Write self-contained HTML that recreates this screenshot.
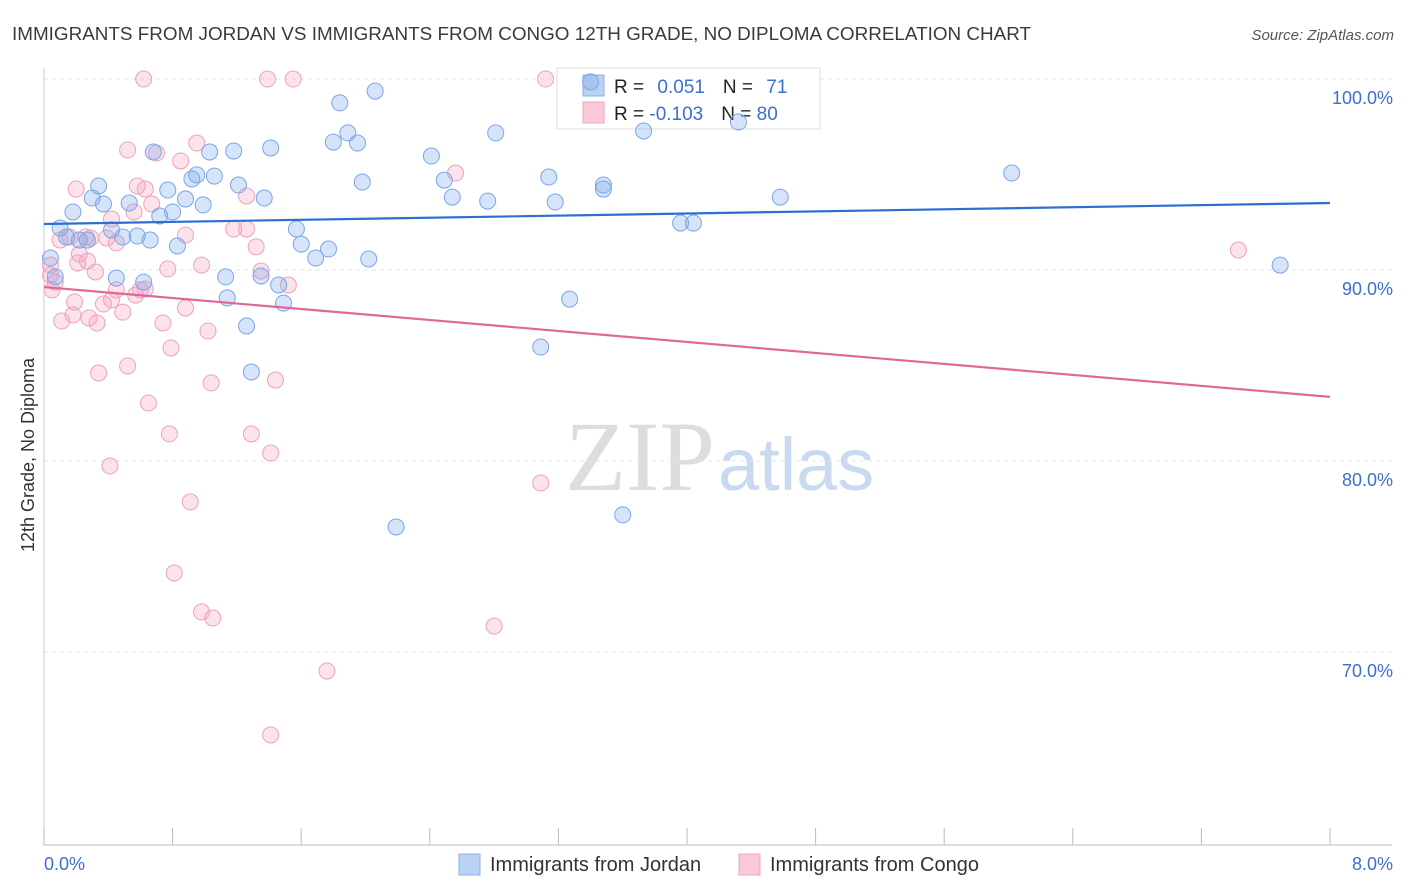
<!DOCTYPE html>
<html><head><meta charset="utf-8"><style>
body{margin:0;background:#fff;font-family:"Liberation Sans",sans-serif;}
#wrap{position:relative;width:1406px;height:892px;overflow:hidden;}
</style></head><body>
<div id="wrap">
<svg id="svg" width="1406" height="892" xmlns="http://www.w3.org/2000/svg">
<text x="12" y="40" font-size="18" fill="#3a3a3a" textLength="1019" lengthAdjust="spacingAndGlyphs">IMMIGRANTS FROM JORDAN VS IMMIGRANTS FROM CONGO 12TH GRADE, NO DIPLOMA CORRELATION CHART</text>
<text x="1394" y="40" font-size="15" fill="#555" font-style="italic" text-anchor="end">Source: ZipAtlas.com</text>
<text x="715" y="490" font-size="100" fill="#ddd" text-anchor="end" font-family="Liberation Serif,serif">ZIP</text>
<text x="718" y="490" font-size="74" fill="#c9daf0">atlas</text>
<g id="grid"></g>
<g>
<rect x="557" y="68" width="263" height="61" fill="#fff" stroke="#ddd"/>
<rect x="583" y="75" width="21" height="21" fill="#b9d1f3" stroke="#8cb2ea"/>
<rect x="583" y="102" width="21" height="21" fill="#fac8d8" stroke="#f0a6c0"/>
<text x="614" y="93" font-size="19" fill="#222">R = <tspan fill="#3b6fd0" dx="8">0.051</tspan><tspan dx="18" fill="#222">N = </tspan><tspan fill="#3b6fd0" dx="8">71</tspan></text>
<text x="614" y="120" font-size="19" fill="#222">R = <tspan fill="#3b6fd0">-0.103</tspan><tspan dx="18" fill="#222">N = </tspan><tspan fill="#3b6fd0">80</tspan></text>
</g>
<g id="pts"></g>
<g id="lines"></g>
<text transform="translate(34,455) rotate(-90)" font-size="18" fill="#333" text-anchor="middle">12th Grade, No Diploma</text>
<text x="44" y="870" font-size="18" fill="#3b6fd0">0.0%</text>
<text x="1393" y="870" font-size="18" fill="#3b6fd0" text-anchor="end">8.0%</text>
<g>
<rect x="459" y="854" width="21" height="21" fill="#b9d1f3" stroke="#8cb2ea"/>
<text x="490" y="871" font-size="20" fill="#333">Immigrants from Jordan</text>
<rect x="739" y="854" width="21" height="21" fill="#fac8d8" stroke="#f0a6c0"/>
<text x="770" y="871" font-size="20" fill="#333">Immigrants from Congo</text>
</g>
</svg>
</div>
<script>
const yTicks=[100,90,80,70];
const yTickLabels=["100.0%","90.0%","80.0%","70.0%"];
const xTicks=[0,0.8,1.6,2.4,3.2,4,4.8,5.6,6.4,7.2,8];
const jordanX=[0.10,0.18,0.34,0.30,0.37,0.14,0.22,0.27,0.42,0.49,0.53,0.58,0.66,0.68,0.72,0.77,0.80,0.83,0.88,0.92,0.95,0.99,1.03,1.06,1.13,1.14,1.18,1.21,1.26,1.29,1.35,1.37,1.41,1.46,1.49,1.57,1.60,1.69,1.77,1.80,1.84,1.89,1.95,1.98,2.02,2.06,2.19,2.41,2.49,2.54,2.76,2.81,3.09,3.14,3.18,3.27,3.40,3.48,3.48,3.60,3.73,3.96,4.04,4.32,4.58,6.02,7.69,0.04,0.07,0.62,0.45];
const jordanY=[93.14,93.98,95.34,94.71,94.40,92.67,92.51,92.51,93.04,92.67,94.45,92.72,92.51,97.12,93.77,95.13,93.98,92.20,94.66,95.71,95.92,94.35,97.12,95.86,90.58,89.48,97.17,95.39,88.01,85.60,90.63,94.71,97.33,90.16,89.21,93.09,92.30,91.57,92.04,97.64,99.69,98.12,97.59,95.55,91.52,100.31,77.49,96.91,95.65,94.76,94.55,98.12,86.91,95.81,94.50,89.42,100.79,95.18,95.39,78.12,98.22,93.40,93.40,98.69,94.76,96.02,91.20,91.57,90.58,90.31,90.52];
const congoX=[0.62,1.39,1.55,3.12,0.52,0.70,0.85,0.95,0.20,0.58,0.63,0.67,0.56,0.42,1.26,1.18,1.26,0.88,1.32,2.56,0.16,0.29,0.39,0.45,0.22,0.21,0.27,0.32,0.77,0.98,1.35,1.52,0.04,0.05,0.07,0.19,0.18,0.11,0.28,0.33,0.37,0.45,0.49,0.57,0.63,0.74,0.88,1.02,0.79,0.52,0.34,1.04,1.44,0.65,0.78,1.29,1.41,0.41,0.91,3.09,0.81,0.98,1.05,2.80,1.76,1.41,7.43,0.42,0.60,0.26,0.04,0.10];
const congoY=[100.94,100.94,100.94,100.94,97.23,97.07,96.65,97.59,95.18,95.34,95.18,94.40,93.98,93.61,94.82,93.09,93.09,92.77,92.15,96.02,92.67,92.62,92.62,92.36,91.78,91.31,91.41,90.84,91.00,91.20,90.89,90.16,90.68,89.90,90.31,89.27,88.59,88.27,88.43,88.17,89.16,89.90,88.74,89.63,89.95,88.17,88.95,87.75,86.86,85.92,85.55,85.03,85.18,83.98,82.36,82.36,81.36,80.68,78.80,79.79,75.08,73.04,72.72,72.30,69.95,66.60,91.99,89.37,89.90,92.67,91.20,92.51];
const jordanTrend=[93.35,94.45];
const congoTrend=[90.05,84.3];
const NS="http://www.w3.org/2000/svg";
const xS=v=>44+v*160.75;
const yS=v=>97+(100-v)*19.1;
function mk(t,a,p){const e=document.createElementNS(NS,t);for(const k in a)e.setAttribute(k,a[k]);p.appendChild(e);return e;}
const grid=document.getElementById('grid');
yTicks.forEach((t,i)=>{
 const l=mk('line',{x1:44,x2:1392,y1:yS(t)-18,y2:yS(t)-18,stroke:'#e4e4e4','stroke-dasharray':'4,4'},grid);
 
 
 const tx=mk('text',{x:1393,y:yS(t)+7,'font-size':18,fill:'#3b6fd0','text-anchor':'end'},grid);
 tx.textContent=yTickLabels[i];
 
 
});
const ax=mk('line',{x1:44,x2:1392,y1:845,y2:845,stroke:'#bbb'},grid);


const ay=mk('line',{x1:44,x2:44,y1:68,y2:845,stroke:'#ccc'},grid);


xTicks.forEach(t=>{
 const l=mk('line',{x1:xS(t),x2:xS(t),y1:828,y2:845,stroke:'#bbb'},grid);
 
 
});
const pts=document.getElementById('pts');
congoX.forEach((x,i)=>{
 const c=mk('circle',{cx:xS(x),cy:yS(congoY[i]),r:8,fill:'rgba(244,160,190,0.3)',stroke:'#eea2bd','stroke-width':1},pts);
 
 
});
jordanX.forEach((x,i)=>{
 const c=mk('circle',{cx:xS(x),cy:yS(jordanY[i]),r:8,fill:'rgba(120,165,235,0.3)',stroke:'#7aa6e8','stroke-width':1},pts);
 
 
});
const lines=document.getElementById('lines');
const lb=mk('line',{x1:xS(0),x2:xS(8),y1:yS(jordanTrend[0]),y2:yS(jordanTrend[1]),stroke:'#2c6fd1','stroke-width':2.2},lines);


const lp=mk('line',{x1:xS(0),x2:xS(8),y1:yS(congoTrend[0]),y2:yS(congoTrend[1]),stroke:'#e0679a','stroke-width':2.2},lines);


</script>
</body></html>
